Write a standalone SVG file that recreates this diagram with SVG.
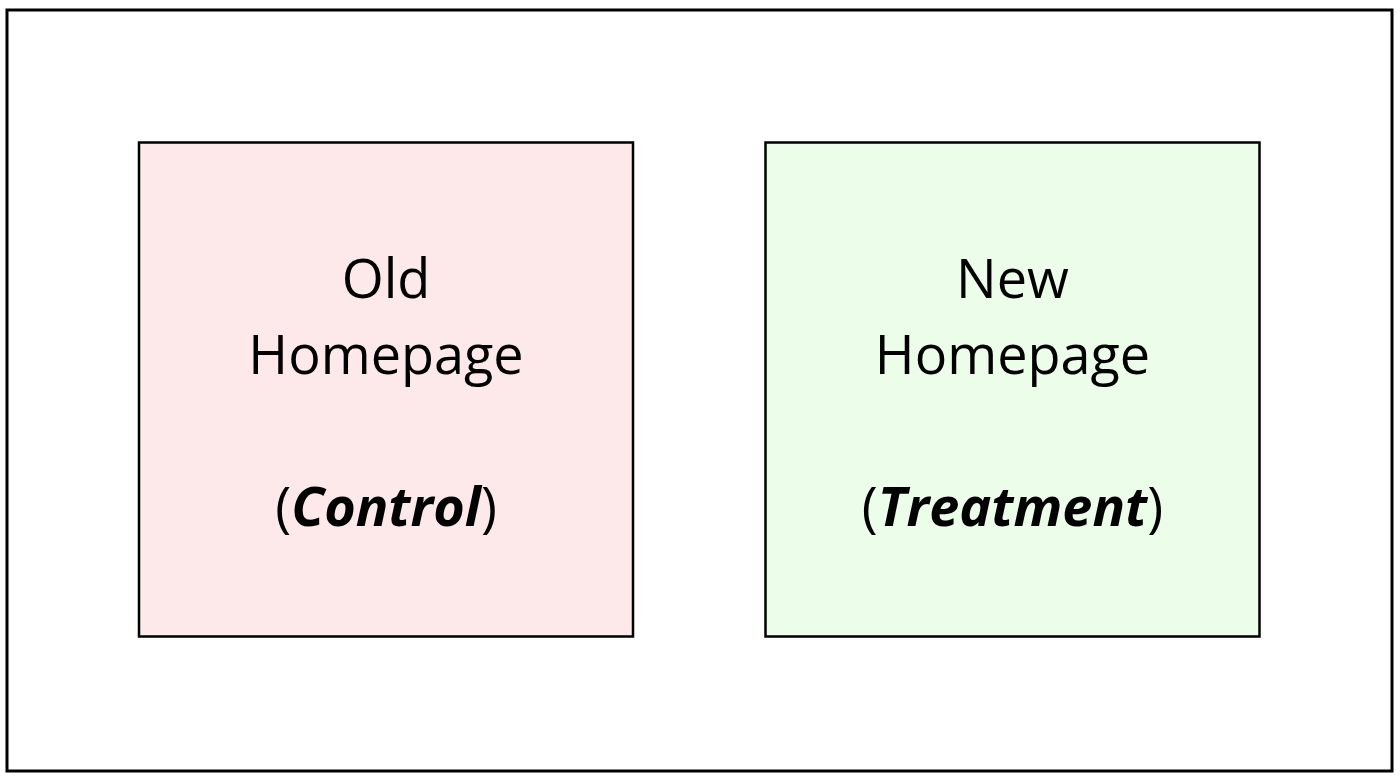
<svg xmlns="http://www.w3.org/2000/svg" width="1400" height="777" viewBox="0 0 1400 777">
<style>
.frame{fill:#fff;stroke:#000;stroke-width:3}
.box{stroke:#000;stroke-width:2.5}
.t{font-family:"Open Sans","Noto Sans",sans-serif;font-size:54px;fill:#000;text-anchor:middle}
.em{font-weight:bold;font-style:italic}
</style>
<rect x="0" y="0" width="1400" height="777" fill="#fff"/>
<rect class="frame" x="7" y="10" width="1385" height="761"/>
<g id="control">
<rect class="box" x="139" y="142.5" width="494" height="494" fill="#FDE8EA"/>
<text class="t" x="386" y="298">Old</text>
<text class="t" x="386" y="374">Homepage</text>
<text class="t" x="386" y="526">(<tspan class="em">Control</tspan>)</text>
</g>
<g id="treatment">
<rect class="box" x="765.5" y="142.5" width="494" height="494" fill="#ECFDEA"/>
<text class="t" x="1012.5" y="298">New</text>
<text class="t" x="1012.5" y="374">Homepage</text>
<text class="t" x="1012.5" y="526">(<tspan class="em">Treatment</tspan>)</text>
</g>
<g id="connectors"/>
</svg>
